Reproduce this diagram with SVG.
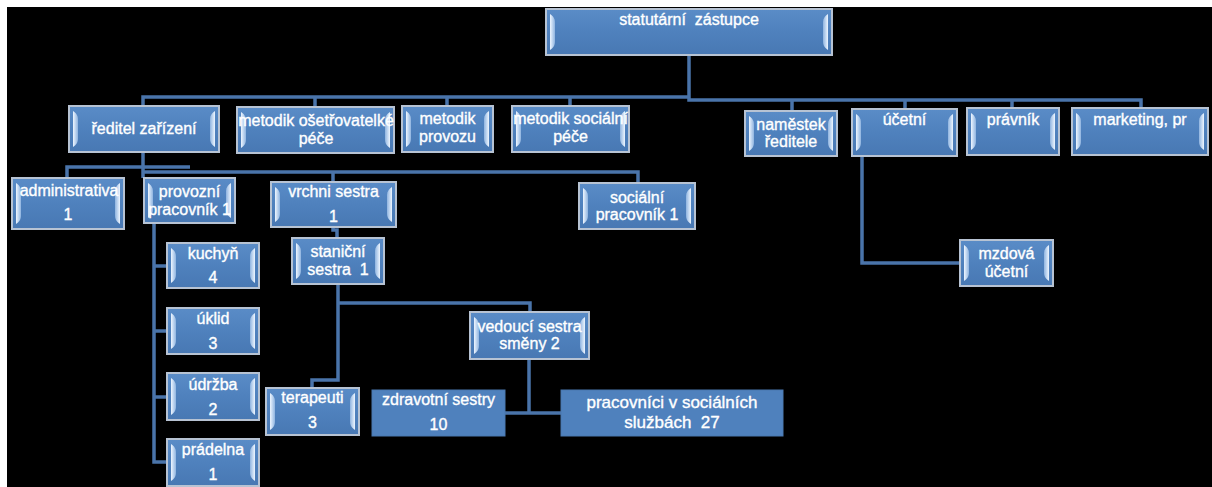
<svg xmlns="http://www.w3.org/2000/svg" width="1212" height="487" viewBox="0 0 1212 487">
<defs>
<linearGradient id="gBox" x1="0" y1="0" x2="0" y2="1">
<stop offset="0" stop-color="#5a8cc7"/>
<stop offset="0.5" stop-color="#4f81bd"/>
<stop offset="1" stop-color="#4878b3"/>
</linearGradient>
<linearGradient id="gBevL" x1="0" y1="0" x2="1" y2="0">
<stop offset="0" stop-color="#eef6ff"/>
<stop offset="1" stop-color="#8fb4e0"/>
</linearGradient>
<linearGradient id="gBevR" x1="1" y1="0" x2="0" y2="0">
<stop offset="0" stop-color="#eef6ff"/>
<stop offset="1" stop-color="#8fb4e0"/>
</linearGradient>
</defs>
<style>
.box{fill:url(#gBox);stroke:#b7c3d3;stroke-width:2}
.flat{fill:#4f81bd;stroke:#4a78b0;stroke-width:1}
.bl{fill:url(#gBevL)}
.br{fill:url(#gBevR)}
.t{font-family:"Liberation Sans",Arial,sans-serif;font-size:16px;fill:#ffffff;stroke:#ffffff;stroke-width:0.35;text-anchor:middle;white-space:pre}
.tb{font-size:17px}
.conn path{fill:none;stroke:#4a74aa;stroke-width:3.5}
</style>
<rect x="0" y="0" width="1212" height="487" fill="#ffffff"/>
<rect x="7" y="7" width="1205" height="480" fill="#000000"/>

<g id="connectors" class="conn">
<path d="M689 55 V97"/>
<path d="M143 106 V97 H689"/>
<path d="M315 97 V107"/>
<path d="M447 97 V106"/>
<path d="M570 97 V106"/>
<path d="M689 97 V100 H1141 V108"/>
<path d="M792 100 V111"/>
<path d="M905 100 V109"/>
<path d="M1012 100 V108"/>
<path d="M143 152 V178"/>
<path d="M67 178 V167 H190"/>
<path d="M143 172 H638 V183"/>
<path d="M333 172 V182"/>
<path d="M333 227 V230 H337 V238"/>
<path d="M338 284 V380 H312 V388"/>
<path d="M338 303 H530 V312"/>
<path d="M154 223 V462 H167"/>
<path d="M154 266 H167"/>
<path d="M154 331 H167"/>
<path d="M154 397 H167"/>
<path d="M529 359 V413"/>
<path d="M505 413 H561"/>
<path d="M862 156 V263 H960"/>
</g>

<g id="n-statutarni">
<rect class="box" x="546" y="9" width="286" height="46"/>
<path class="bl" d="M550 14 C554 17 555 19 555 23 L555 41 C555 45 554 47 550 50 Z"/>
<path class="br" d="M828 14 C824 17 823 19 823 23 L823 41 C823 45 824 47 828 50 Z"/>
<text class="t" x="689" y="25">statutární  zástupce</text>
</g>

<g id="n-reditel">
<rect class="box" x="69" y="106" width="150" height="46"/>
<path class="bl" d="M73 111 C77 114 78 116 78 120 L78 138 C78 142 77 144 73 147 Z"/>
<path class="br" d="M215 111 C211 114 210 116 210 120 L210 138 C210 142 211 144 215 147 Z"/>
<text class="t" x="144" y="134">ředitel zařízení</text>
</g>

<g id="n-metodik-oset">
<rect class="box" x="237" y="107" width="157" height="46"/>
<path class="bl" d="M241 112 C245 115 246 117 246 121 L246 139 C246 143 245 145 241 148 Z"/>
<path class="br" d="M390 112 C386 115 385 117 385 121 L385 139 C385 143 386 145 390 148 Z"/>
<text class="t" x="316" y="126">metodik ošetřovatelké</text>
<text class="t" x="316" y="144">péče</text>
</g>

<g id="n-metodik-provozu">
<rect class="box" x="402" y="106" width="91" height="46"/>
<path class="bl" d="M406 111 C410 114 411 116 411 120 L411 138 C411 142 410 144 406 147 Z"/>
<path class="br" d="M489 111 C485 114 484 116 484 120 L484 138 C484 142 485 144 489 147 Z"/>
<text class="t" x="447.5" y="124">metodik</text>
<text class="t" x="447.5" y="142">provozu</text>
</g>

<g id="n-metodik-soc">
<rect class="box" x="512" y="106" width="117" height="46"/>
<path class="bl" d="M516 111 C520 114 521 116 521 120 L521 138 C521 142 520 144 516 147 Z"/>
<path class="br" d="M625 111 C621 114 620 116 620 120 L620 138 C620 142 621 144 625 147 Z"/>
<text class="t" x="570.5" y="124">metodik sociální</text>
<text class="t" x="570.5" y="142">péče</text>
</g>

<g id="n-namestek">
<rect class="box" x="745" y="111" width="92" height="45"/>
<path class="bl" d="M749 116 C753 119 754 121 754 125 L754 142 C754 146 753 148 749 151 Z"/>
<path class="br" d="M833 116 C829 119 828 121 828 125 L828 142 C828 146 829 148 833 151 Z"/>
<text class="t" x="791" y="130">naměstek</text>
<text class="t" x="791" y="147">ředitele</text>
</g>

<g id="n-ucetni">
<rect class="box" x="852" y="109" width="105" height="47"/>
<path class="bl" d="M856 114 C860 117 861 119 861 123 L861 142 C861 146 860 148 856 151 Z"/>
<path class="br" d="M953 114 C949 117 948 119 948 123 L948 142 C948 146 949 148 953 151 Z"/>
<text class="t" x="904.5" y="125">účetní</text>
</g>

<g id="n-pravnik">
<rect class="box" x="967" y="108" width="92" height="47"/>
<path class="bl" d="M971 113 C975 116 976 118 976 122 L976 141 C976 145 975 147 971 150 Z"/>
<path class="br" d="M1055 113 C1051 116 1050 118 1050 122 L1050 141 C1050 145 1051 147 1055 150 Z"/>
<text class="t" x="1013" y="125">právník</text>
</g>

<g id="n-marketing">
<rect class="box" x="1072" y="108" width="136" height="47"/>
<path class="bl" d="M1076 113 C1080 116 1081 118 1081 122 L1081 141 C1081 145 1080 147 1076 150 Z"/>
<path class="br" d="M1204 113 C1200 116 1199 118 1199 122 L1199 141 C1199 145 1200 147 1204 150 Z"/>
<text class="t" x="1140" y="125">marketing, pr</text>
</g>

<g id="n-administrativa">
<rect class="box" x="12" y="178" width="112" height="51"/>
<path class="bl" d="M16 183 C20 186 21 188 21 192 L21 215 C21 219 20 221 16 224 Z"/>
<path class="br" d="M120 183 C116 186 115 188 115 192 L115 215 C115 219 116 221 120 224 Z"/>
<text class="t" x="69" y="196">administrativa</text>
<text class="t" x="68" y="220">1</text>
</g>

<g id="n-provozni">
<rect class="box" x="144" y="178" width="91" height="45"/>
<path class="bl" d="M148 183 C152 186 153 188 153 192 L153 209 C153 213 152 215 148 218 Z"/>
<path class="br" d="M231 183 C227 186 226 188 226 192 L226 209 C226 213 227 215 231 218 Z"/>
<text class="t" x="189.5" y="197">provozní</text>
<text class="t" x="189.5" y="215">pracovník 1</text>
</g>

<g id="n-vrchni">
<rect class="box" x="271" y="182" width="125" height="45"/>
<path class="bl" d="M275 187 C279 190 280 192 280 196 L280 213 C280 217 279 219 275 222 Z"/>
<path class="br" d="M392 187 C388 190 387 192 387 196 L387 213 C387 217 388 219 392 222 Z"/>
<text class="t" x="333.5" y="197">vrchni sestra</text>
<text class="t" x="333.5" y="222">1</text>
</g>

<g id="n-socialni">
<rect class="box" x="579" y="183" width="116" height="46"/>
<path class="bl" d="M583 188 C587 191 588 193 588 197 L588 215 C588 219 587 221 583 224 Z"/>
<path class="br" d="M691 188 C687 191 686 193 686 197 L686 215 C686 219 687 221 691 224 Z"/>
<text class="t" x="637" y="203">sociální</text>
<text class="t" x="637" y="220">pracovník 1</text>
</g>

<g id="n-stanicni">
<rect class="box" x="292" y="238" width="92" height="46"/>
<path class="bl" d="M296 243 C300 246 301 248 301 252 L301 270 C301 274 300 276 296 279 Z"/>
<path class="br" d="M380 243 C376 246 375 248 375 252 L375 270 C375 274 376 276 380 279 Z"/>
<text class="t" x="338" y="257">staniční</text>
<text class="t" x="338" y="275">sestra  1</text>
</g>

<g id="n-kuchyn">
<rect class="box" x="167" y="243" width="92" height="45"/>
<path class="bl" d="M171 248 C175 251 176 253 176 257 L176 274 C176 278 175 280 171 283 Z"/>
<path class="br" d="M255 248 C251 251 250 253 250 257 L250 274 C250 278 251 280 255 283 Z"/>
<text class="t" x="213" y="259">kuchyň</text>
<text class="t" x="213" y="283">4</text>
</g>

<g id="n-uklid">
<rect class="box" x="167" y="308" width="92" height="46"/>
<path class="bl" d="M171 313 C175 316 176 318 176 322 L176 340 C176 344 175 346 171 349 Z"/>
<path class="br" d="M255 313 C251 316 250 318 250 322 L250 340 C250 344 251 346 255 349 Z"/>
<text class="t" x="213" y="324">úklid</text>
<text class="t" x="213" y="349">3</text>
</g>

<g id="n-udrzba">
<rect class="box" x="167" y="373" width="92" height="47"/>
<path class="bl" d="M171 378 C175 381 176 383 176 387 L176 406 C176 410 175 412 171 415 Z"/>
<path class="br" d="M255 378 C251 381 250 383 250 387 L250 406 C250 410 251 412 255 415 Z"/>
<text class="t" x="213" y="390">údržba</text>
<text class="t" x="213" y="415">2</text>
</g>

<g id="n-pradelna">
<rect class="box" x="167" y="439" width="92" height="47"/>
<path class="bl" d="M171 444 C175 447 176 449 176 453 L176 472 C176 476 175 478 171 481 Z"/>
<path class="br" d="M255 444 C251 447 250 449 250 453 L250 472 C250 476 251 478 255 481 Z"/>
<text class="t" x="213" y="455">prádelna</text>
<text class="t" x="213" y="480">1</text>
</g>

<g id="n-vedouci">
<rect class="box" x="470" y="312" width="119" height="47"/>
<path class="bl" d="M474 317 C478 320 479 322 479 326 L479 345 C479 349 478 351 474 354 Z"/>
<path class="br" d="M585 317 C581 320 580 322 580 326 L580 345 C580 349 581 351 585 354 Z"/>
<text class="t" x="529.5" y="332">vedoucí sestra</text>
<text class="t" x="529.5" y="349">směny 2</text>
</g>

<g id="n-terapeuti">
<rect class="box" x="266" y="388" width="93" height="47"/>
<path class="bl" d="M270 393 C274 396 275 398 275 402 L275 421 C275 425 274 427 270 430 Z"/>
<path class="br" d="M355 393 C351 396 350 398 350 402 L350 421 C350 425 351 427 355 430 Z"/>
<text class="t" x="312.5" y="403">terapeuti</text>
<text class="t" x="312.5" y="428">3</text>
</g>

<g id="n-zdravotni">
<rect class="flat" x="372" y="390" width="133" height="46"/>
<text class="t" x="438.5" y="405">zdravotní sestry</text>
<text class="t" x="438.5" y="430">10</text>
</g>

<g id="n-pracovnici">
<rect class="flat" x="561" y="390" width="222" height="46"/>
<text class="t tb" x="672" y="408">pracovníci v sociálních</text>
<text class="t tb" x="672" y="428">službách  27</text>
</g>

<g id="n-mzdova">
<rect class="box" x="960" y="240" width="93" height="46"/>
<path class="bl" d="M964 245 C968 248 969 250 969 254 L969 272 C969 276 968 278 964 281 Z"/>
<path class="br" d="M1049 245 C1045 248 1044 250 1044 254 L1044 272 C1044 276 1045 278 1049 281 Z"/>
<text class="t" x="1006.5" y="259">mzdová</text>
<text class="t" x="1006.5" y="277">účetní</text>
</g>
</svg>
